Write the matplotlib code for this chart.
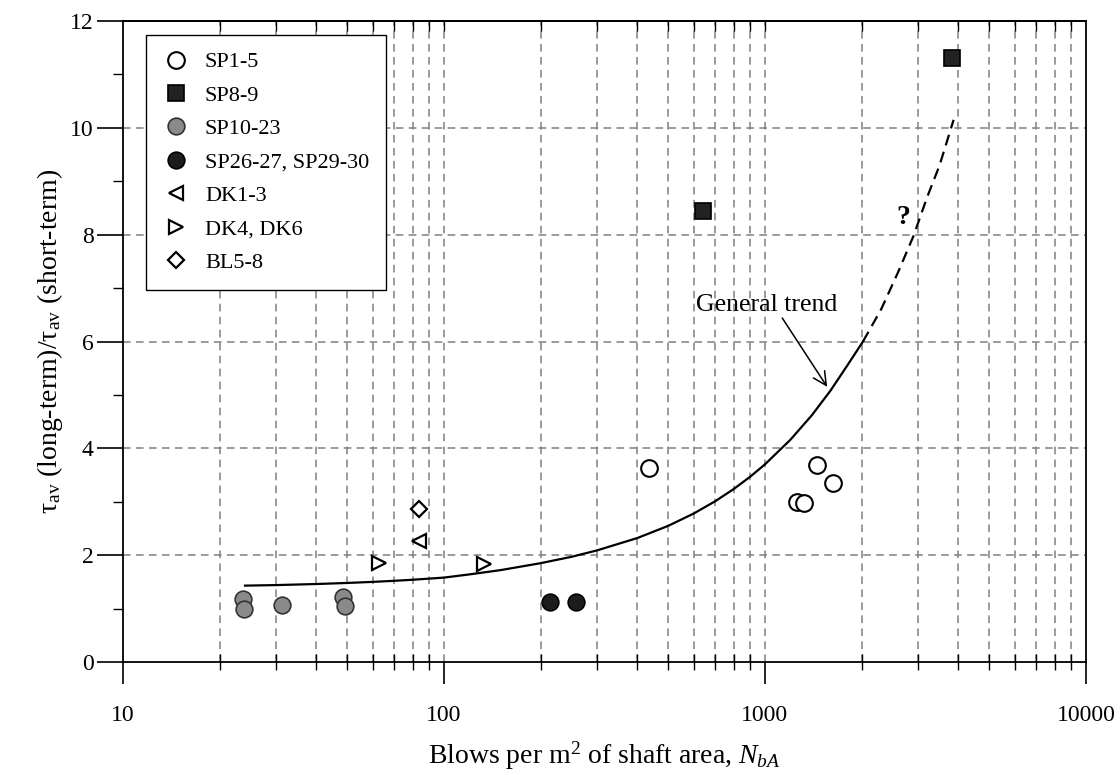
import numpy as np
import matplotlib
matplotlib.use('Agg')
import matplotlib.pyplot as plt
from matplotlib.ticker import LogLocator, MultipleLocator, NullFormatter


plt.rcParams['font.family'] = ['Liberation Serif', 'DejaVu Serif']
plt.rcParams['mathtext.fontset'] = 'custom'
plt.rcParams['mathtext.rm'] = 'Liberation Serif'
plt.rcParams['mathtext.it'] = 'Liberation Serif:italic'
plt.rcParams['mathtext.bf'] = 'Liberation Serif:bold'

# measured points, x = blows per m2 of shaft area, y = ratio of shaft resistances
sp1_5_x = [434, 1449, 1256, 1320, 1625]
sp1_5_y = [3.64, 3.69, 3.00, 2.98, 3.36]

sp8_9_x = [639, 3837]
sp8_9_y = [8.44, 11.30]

sp10_23_x = [23.7, 23.8, 31.3, 48.5, 49.2]
sp10_23_y = [1.18, 0.99, 1.06, 1.22, 1.04]

sp26_30_x = [214, 257]
sp26_30_y = [1.12, 1.13]

dk1_3_x = [83.7]
dk1_3_y = [2.27]

dk4_6_x = [62.9, 133.5]
dk4_6_y = [1.86, 1.84]

bl5_8_x = [83.7]
bl5_8_y = [2.87]

# general trend, solid part then the uncertain dashed part
trend_x = [24, 30, 40, 50, 60, 70, 80, 100, 120, 150, 200, 250, 300, 400,
           500, 600, 700, 800, 900, 1000, 1200, 1400, 1600, 1800, 2020]
trend_y = [1.43, 1.44, 1.46, 1.48, 1.50, 1.52, 1.54, 1.58, 1.64, 1.72, 1.85,
           1.97, 2.09, 2.32, 2.55, 2.78, 3.01, 3.24, 3.47, 3.70, 4.16, 4.62,
           5.08, 5.54, 6.00]
trend_ext_x = [2020, 2300, 2600, 2900, 3200, 3500, 3870]
trend_ext_y = [6.00, 6.60, 7.30, 7.97, 8.70, 9.30, 10.15]

fig = plt.figure(figsize=(11.2, 7.75), dpi=100)
ax = fig.add_axes([0.1098, 0.1458, 0.8598, 0.8271])

ax.set_xscale('log')
ax.set_xlim(10, 10000)
ax.set_ylim(0, 12)

# grid: every decade and sub-decade line on x, even values on y
grid_kw = dict(color='#808080', lw=1.1, ls=(0, (5, 3.5)), zorder=0)
for d in [10, 100, 1000]:
    for m in range(1, 10):
        v = d * m
        if 10 < v < 10000:
            ax.axvline(v, **grid_kw)
for v in [2, 4, 6, 8, 10]:
    ax.axhline(v, **grid_kw)

ax.plot(trend_x, trend_y, color='black', lw=1.6, zorder=2)
ax.plot(trend_ext_x, trend_ext_y, color='black', lw=1.6, ls=(0, (5, 3)), zorder=2)

ms = 12
ax.plot(sp1_5_x, sp1_5_y, 'o', ms=ms, mfc='white', mec='black', mew=1.5,
        label='SP1-5', zorder=3)
ax.plot(sp8_9_x, sp8_9_y, 's', ms=ms, mfc='#222222', mec='black', mew=1.2,
        label='SP8-9', zorder=3)
ax.plot(sp10_23_x, sp10_23_y, 'o', ms=ms, mfc='#8a8a8a', mec='#333333', mew=1.2,
        label='SP10-23', zorder=3)
ax.plot(sp26_30_x, sp26_30_y, 'o', ms=ms, mfc='#1c1c1c', mec='black', mew=1.2,
        label='SP26-27, SP29-30', zorder=3)
ax.plot(dk1_3_x, dk1_3_y, '<', ms=10, mfc='white', mec='black', mew=1.6,
        label='DK1-3', zorder=3)
ax.plot(dk4_6_x, dk4_6_y, '>', ms=10, mfc='white', mec='black', mew=1.6,
        label='DK4, DK6', zorder=3)
ax.plot(bl5_8_x, bl5_8_y, 'D', ms=8, mfc='white', mec='black', mew=1.6,
        label='BL5-8', zorder=3)

ax.text(608, 6.69, 'General trend', fontsize=18.5, ha='left', va='center')
ax.annotate('', xy=(1563, 5.15), xytext=(1132, 6.44),
            arrowprops=dict(arrowstyle='->', color='black', lw=1.1,
                            mutation_scale=24, shrinkA=0, shrinkB=0))
ax.text(2706, 8.32, '?', fontsize=20, fontweight='bold', ha='center', va='center')

leg = ax.legend(loc='upper left', bbox_to_anchor=(0.024, 0.978), borderaxespad=0,
                fontsize=16, frameon=True, fancybox=False, edgecolor='black',
                framealpha=1, borderpad=0.75, labelspacing=0.58,
                handletextpad=0.7, handlelength=1.2)
leg.get_frame().set_linewidth(1.0)
leg.set_zorder(5)

# ticks
ax.set_xticks([10, 100, 1000, 10000])
ax.set_xticklabels(['10', '100', '1000', '10000'])
ax.xaxis.set_minor_locator(LogLocator(base=10, subs=np.arange(2, 10), numticks=20))
ax.xaxis.set_minor_formatter(NullFormatter())
ax.yaxis.set_major_locator(MultipleLocator(2))
ax.yaxis.set_minor_locator(MultipleLocator(1))

ax.tick_params(axis='x', which='major', direction='out', length=16, width=1.2,
               labelsize=17, pad=15)
ax.tick_params(axis='x', which='minor', direction='inout', length=11, width=1.0)
ax.tick_params(axis='y', which='major', direction='out', length=19, width=1.2,
               labelsize=17, pad=2)
ax.tick_params(axis='y', which='minor', direction='out', length=7, width=1.0)

# short inward ticks along the top edge
top = ax.secondary_xaxis('top')
top.set_xticks([100, 1000])
top.xaxis.set_minor_locator(LogLocator(base=10, subs=np.arange(2, 10), numticks=20))
top.xaxis.set_minor_formatter(NullFormatter())
top.tick_params(which='both', direction='in', length=7, width=1.0, labeltop=False)
top.spines['top'].set_linewidth(1.3)

for s in ax.spines.values():
    s.set_linewidth(1.3)

ax.set_xlabel('Blows per m$^2$ of shaft area, $N_{bA}$', fontsize=20, labelpad=10)
ax.set_ylabel('τ$_{\\rm av}$ (long-term)/τ$_{\\rm av}$ (short-term)', fontsize=20,
              labelpad=4)

fig.savefig('out.png', dpi=100)
